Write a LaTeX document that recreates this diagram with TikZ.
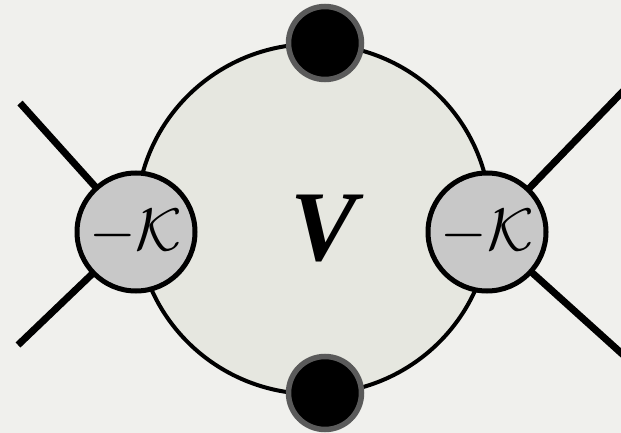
\documentclass[tikz,border=0pt]{standalone}
\usepackage{graphicx}
\usepackage{fontspec}
\newfontfamily\vfont{Liberation Serif}[BoldItalicFont={Liberation Serif Bold Italic}]
\usetikzlibrary{shapes.geometric}
\pgfdeclarelayer{canvas}
\pgfdeclarelayer{bg}
\pgfsetlayers{canvas,bg,main}
\definecolor{paper}{HTML}{F0F0ED}
\definecolor{loopfill}{HTML}{E6E7E0}
\definecolor{kfill}{HTML}{C8C8C8}
\definecolor{ring}{HTML}{5A5A5A}
% vertex label, scaled up from the 10pt math size
\newcommand{\minusK}{\scalebox{6}{$-\mathcal{K}$}}
\tikzset{
  loopshape/.style={ellipse, draw=black, line width=4pt, fill=loopfill,
    minimum width=354pt, minimum height=350pt, inner sep=0pt, outer sep=0pt},
  kblob/.style={circle, draw=black, line width=5pt, fill=kfill,
    minimum size=118pt, inner sep=0pt, outer sep=0pt},
  dotnode/.style={circle, draw=ring, line width=5.5pt, fill=black,
    minimum size=73pt, inner sep=0pt, outer sep=0pt},
  leg/.style={line width=7pt, line cap=butt},
  vlabel/.style={inner sep=0pt, font=\vfont\bfseries\itshape\fontsize{100}{100}\selectfont}
}
\begin{document}
\begin{tikzpicture}[x=1pt, y=-1pt]
  % canvas
  \begin{pgfonlayer}{canvas}
    \fill[paper] (0,0) rectangle (621,433);
  \end{pgfonlayer}
  \useasboundingbox (0,0) rectangle (621,433);

  % the loop and its vertices
  \node[loopshape] (loop) at (313.5,219) {};
  \node[kblob] (kl) at (136,232) {\minusK};
  \node[kblob] (kr) at (487,232) {\minusK};
  \node[dotnode] (top) at (325,43) {};
  \node[dotnode] (bot) at (325,393) {};
  \node[vlabel] (v) at (324,229) {V};

  % external legs, drawn underneath the vertex blobs
  \coordinate (ul) at (20,103);
  \coordinate (ll) at (18,345);
  \coordinate (ur) at (630,84);
  \coordinate (lr) at (630,361);
  \begin{pgfonlayer}{bg}
    \draw[leg] (ul) -- (kl.center);
    \draw[leg] (ll) -- (kl.center);
    \draw[leg] (ur) -- (kr.center);
    \draw[leg] (lr) -- (kr.center);
  \end{pgfonlayer}
\end{tikzpicture}
\end{document}
